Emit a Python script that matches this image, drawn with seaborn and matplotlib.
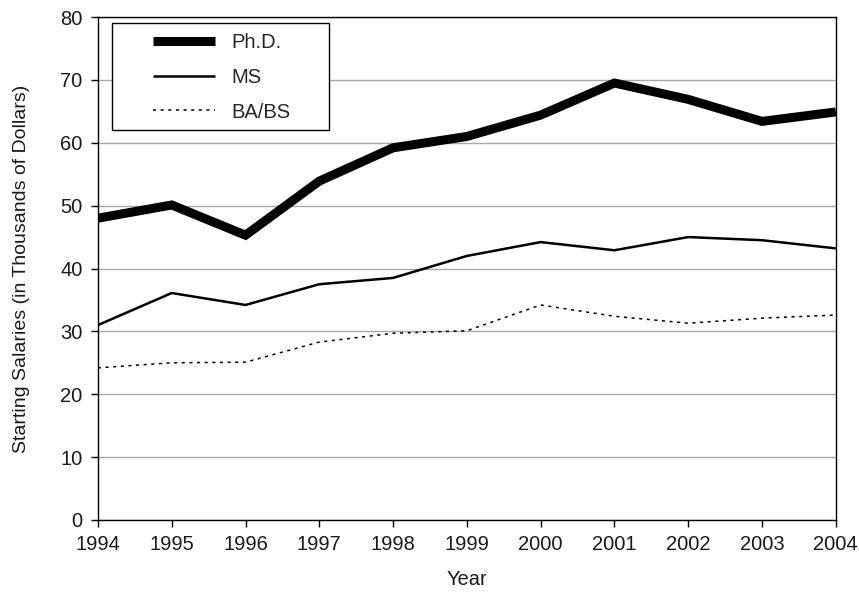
import matplotlib
matplotlib.use("Agg")
import matplotlib.pyplot as plt
from matplotlib.patches import Rectangle
import seaborn as sns
import pandas as pd

years = [1994, 1995, 1996, 1997, 1998, 1999, 2000, 2001, 2002, 2003, 2004]
phd = [48.0, 50.1, 45.3, 53.9, 59.2, 61.0, 64.4, 69.5, 66.9, 63.4, 64.9]
ms = [31.0, 36.1, 34.2, 37.5, 38.5, 42.0, 44.2, 42.9, 45.0, 44.5, 43.2]
ba_bs = [24.2, 25.0, 25.1, 28.3, 29.7, 30.1, 34.2, 32.4, 31.3, 32.1, 32.6]
series_names = ["Ph.D.", "MS", "BA/BS"]

sns.set_theme(style="white")
plt.rcParams["font.family"] = ["Liberation Sans", "DejaVu Sans"]

df = pd.DataFrame({"Year": years, "Ph.D.": phd, "MS": ms, "BA/BS": ba_bs})
long = df.melt(id_vars="Year", var_name="Degree", value_name="Salary")

fig = plt.figure(figsize=(8.59, 5.97), dpi=100)
ax = fig.add_axes([0.114, 0.129, 0.859, 0.8425])

styles = {
    "Ph.D.": dict(linewidth=6.5, linestyle="-"),
    "MS": dict(linewidth=1.8, linestyle="-"),
    "BA/BS": dict(linewidth=1.1, linestyle=(0, (2, 3))),
}
for name in series_names:
    sub = long[long["Degree"] == name]
    sns.lineplot(data=sub, x="Year", y="Salary", ax=ax, color="black",
                 label=name, solid_joinstyle="miter", solid_capstyle="butt",
                 **styles[name])

fs = 14.5
ax.set_xlim(1994, 2004)
ax.set_ylim(0, 80)
ax.set_xticks(years)
ax.set_yticks(range(0, 81, 10))
ax.yaxis.grid(True, color="#a8a8a8", linewidth=1.0)
ax.xaxis.grid(False)
ax.set_axisbelow(True)
for sp in ax.spines.values():
    sp.set_color("black")
    sp.set_linewidth(1.0)
ax.tick_params(axis="both", direction="out", length=5, width=1.0, color="black",
               labelsize=fs, labelcolor="#1a1a1a", bottom=True, left=True, pad=6)
ax.set_xlabel("Year", fontsize=fs, labelpad=11, color="#1a1a1a")
ax.set_ylabel("Starting Salaries (in Thousands of Dollars)", fontsize=14,
              labelpad=22, color="#1a1a1a")

# legend entries without their own frame; the box is drawn separately
leg = ax.legend(loc="upper left", bbox_to_anchor=(0.066, 0.98), fontsize=fs,
                frameon=False, handlelength=3.1, handletextpad=0.8,
                borderpad=0.3, labelspacing=0.78, borderaxespad=0)
box = Rectangle((0.0189, 0.775), 0.2936, 0.2133, transform=ax.transAxes,
                facecolor="white", edgecolor="black", linewidth=1.0, zorder=4)
ax.add_patch(box)
leg.set_zorder(5)

fig.savefig("out.png", dpi=100)
